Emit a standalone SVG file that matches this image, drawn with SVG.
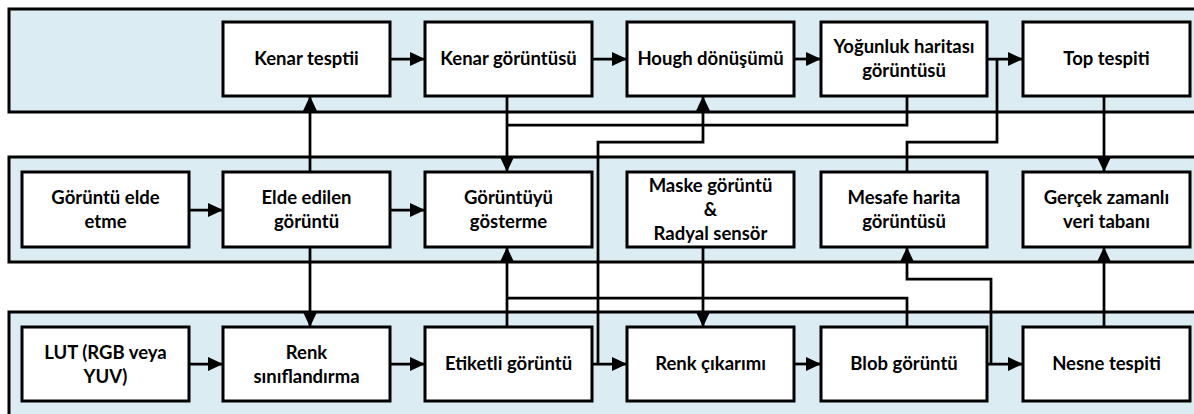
<svg xmlns="http://www.w3.org/2000/svg" width="1194" height="414" viewBox="0 0 1194 414">
  <style>
    .band { fill: #dbedf3; stroke: #000; stroke-width: 3; }
    .box { fill: #fff; stroke: #000; stroke-width: 3; }
    .lbl { font-family: Lato, "Liberation Sans", sans-serif; font-weight: bold; font-size: 18.5px; fill: #000; text-anchor: middle; }
    .wire { fill: none; stroke: #000; stroke-width: 2.75; }
    .arr { marker-end: url(#head); }
  </style>
  <defs>
    <marker id="head" markerUnits="userSpaceOnUse" markerWidth="15" markerHeight="14" refX="15" refY="7" orient="auto">
      <path d="M0,0 L15,7 L0,14 z" fill="#000"/>
    </marker>
  </defs>

  <!-- layer bands -->
  <g id="bands">
    <rect class="band" x="9" y="9" width="1200" height="103"/>
    <rect class="band" x="9" y="157" width="1200" height="105"/>
    <rect class="band" x="9" y="312" width="1200" height="120"/>
  </g>

  <!-- connectors -->
  <g id="connectors">
    <!-- top row -->
    <path class="wire arr" d="M390,59 H425"/>
    <path class="wire arr" d="M592,59 H627"/>
    <path class="wire arr" d="M794,59 H821"/>
    <path class="wire arr" d="M987,59 H1023"/>
    <!-- middle row -->
    <path class="wire arr" d="M189,210 H223"/>
    <path class="wire arr" d="M390,210 H425"/>
    <!-- bottom row -->
    <path class="wire arr" d="M189,364 H223"/>
    <path class="wire arr" d="M390,364 H425"/>
    <path class="wire arr" d="M592,364 H627"/>
    <path class="wire arr" d="M794,364 H821"/>
    <path class="wire arr" d="M987,364 H1023"/>
    <!-- verticals and routed links -->
    <path class="wire arr" d="M310,172 V96"/>
    <path class="wire arr" d="M310,247 V327"/>
    <path class="wire arr" d="M507,96 V172"/>
    <path class="wire" d="M907,96 V125 H507"/>
    <path class="wire arr" d="M598,364 V142 H703 V96"/>
    <path class="wire arr" d="M507,327 V247"/>
    <path class="wire" d="M907,327 V298 H507"/>
    <path class="wire arr" d="M703,247 V327"/>
    <path class="wire" d="M907,172 V142 H997 V59"/>
    <path class="wire arr" d="M991,364 V279 H907 V247"/>
    <path class="wire arr" d="M1104,96 V172"/>
    <path class="wire arr" d="M1104,327 V247"/>
  </g>

  <!-- top row nodes -->
  <g id="kenar-tespiti">
    <rect class="box" x="223" y="22" width="167" height="74"/>
    <text class="lbl" x="306.5" y="65">Kenar tesptii</text>
  </g>
  <g id="kenar-goruntusu">
    <rect class="box" x="425" y="22" width="167" height="74"/>
    <text class="lbl" x="508.5" y="65">Kenar görüntüsü</text>
  </g>
  <g id="hough">
    <rect class="box" x="627" y="22" width="167" height="74"/>
    <text class="lbl" x="710.5" y="65">Hough dönüşümü</text>
  </g>
  <g id="yogunluk">
    <rect class="box" x="821" y="22" width="166" height="74"/>
    <text class="lbl" x="904" y="53">Yoğunluk haritası</text>
    <text class="lbl" x="904" y="77">görüntüsü</text>
  </g>
  <g id="top-tespiti">
    <rect class="box" x="1023" y="22" width="167" height="74"/>
    <text class="lbl" x="1106.5" y="65">Top tespiti</text>
  </g>

  <!-- middle row nodes -->
  <g id="goruntu-elde-etme">
    <rect class="box" x="22" y="172" width="167" height="75"/>
    <text class="lbl" x="105.5" y="204">Görüntü elde</text>
    <text class="lbl" x="105.5" y="228">etme</text>
  </g>
  <g id="elde-edilen">
    <rect class="box" x="223" y="172" width="167" height="75"/>
    <text class="lbl" x="306.5" y="204">Elde edilen</text>
    <text class="lbl" x="306.5" y="228">görüntü</text>
  </g>
  <g id="goruntuyu-gosterme">
    <rect class="box" x="425" y="172" width="167" height="75"/>
    <text class="lbl" x="508.5" y="204">Görüntüyü</text>
    <text class="lbl" x="508.5" y="228">gösterme</text>
  </g>
  <g id="maske">
    <rect class="box" x="627" y="172" width="167" height="75"/>
    <text class="lbl" x="710.5" y="192">Maske görüntü</text>
    <text class="lbl" x="710.5" y="216">&amp;</text>
    <text class="lbl" x="710.5" y="240">Radyal sensör</text>
  </g>
  <g id="mesafe">
    <rect class="box" x="821" y="172" width="166" height="75"/>
    <text class="lbl" x="904" y="204">Mesafe harita</text>
    <text class="lbl" x="904" y="228">görüntüsü</text>
  </g>
  <g id="gercek-zamanli">
    <rect class="box" x="1023" y="172" width="167" height="75"/>
    <text class="lbl" x="1106.5" y="204">Gerçek zamanlı</text>
    <text class="lbl" x="1106.5" y="228">veri tabanı</text>
  </g>

  <!-- bottom row nodes -->
  <g id="lut">
    <rect class="box" x="22" y="327" width="167" height="74"/>
    <text class="lbl" x="105.5" y="359">LUT (RGB veya</text>
    <text class="lbl" x="105.5" y="383">YUV)</text>
  </g>
  <g id="renk-siniflandirma">
    <rect class="box" x="223" y="327" width="167" height="74"/>
    <text class="lbl" x="306.5" y="359">Renk</text>
    <text class="lbl" x="306.5" y="383">sınıflandırma</text>
  </g>
  <g id="etiketli">
    <rect class="box" x="425" y="327" width="167" height="74"/>
    <text class="lbl" x="508.5" y="370">Etiketli görüntü</text>
  </g>
  <g id="renk-cikarimi">
    <rect class="box" x="627" y="327" width="167" height="74"/>
    <text class="lbl" x="710.5" y="370">Renk çıkarımı</text>
  </g>
  <g id="blob">
    <rect class="box" x="821" y="327" width="166" height="74"/>
    <text class="lbl" x="904" y="370">Blob görüntü</text>
  </g>
  <g id="nesne">
    <rect class="box" x="1023" y="327" width="167" height="74"/>
    <text class="lbl" x="1106.5" y="370">Nesne tespiti</text>
  </g>
</svg>
